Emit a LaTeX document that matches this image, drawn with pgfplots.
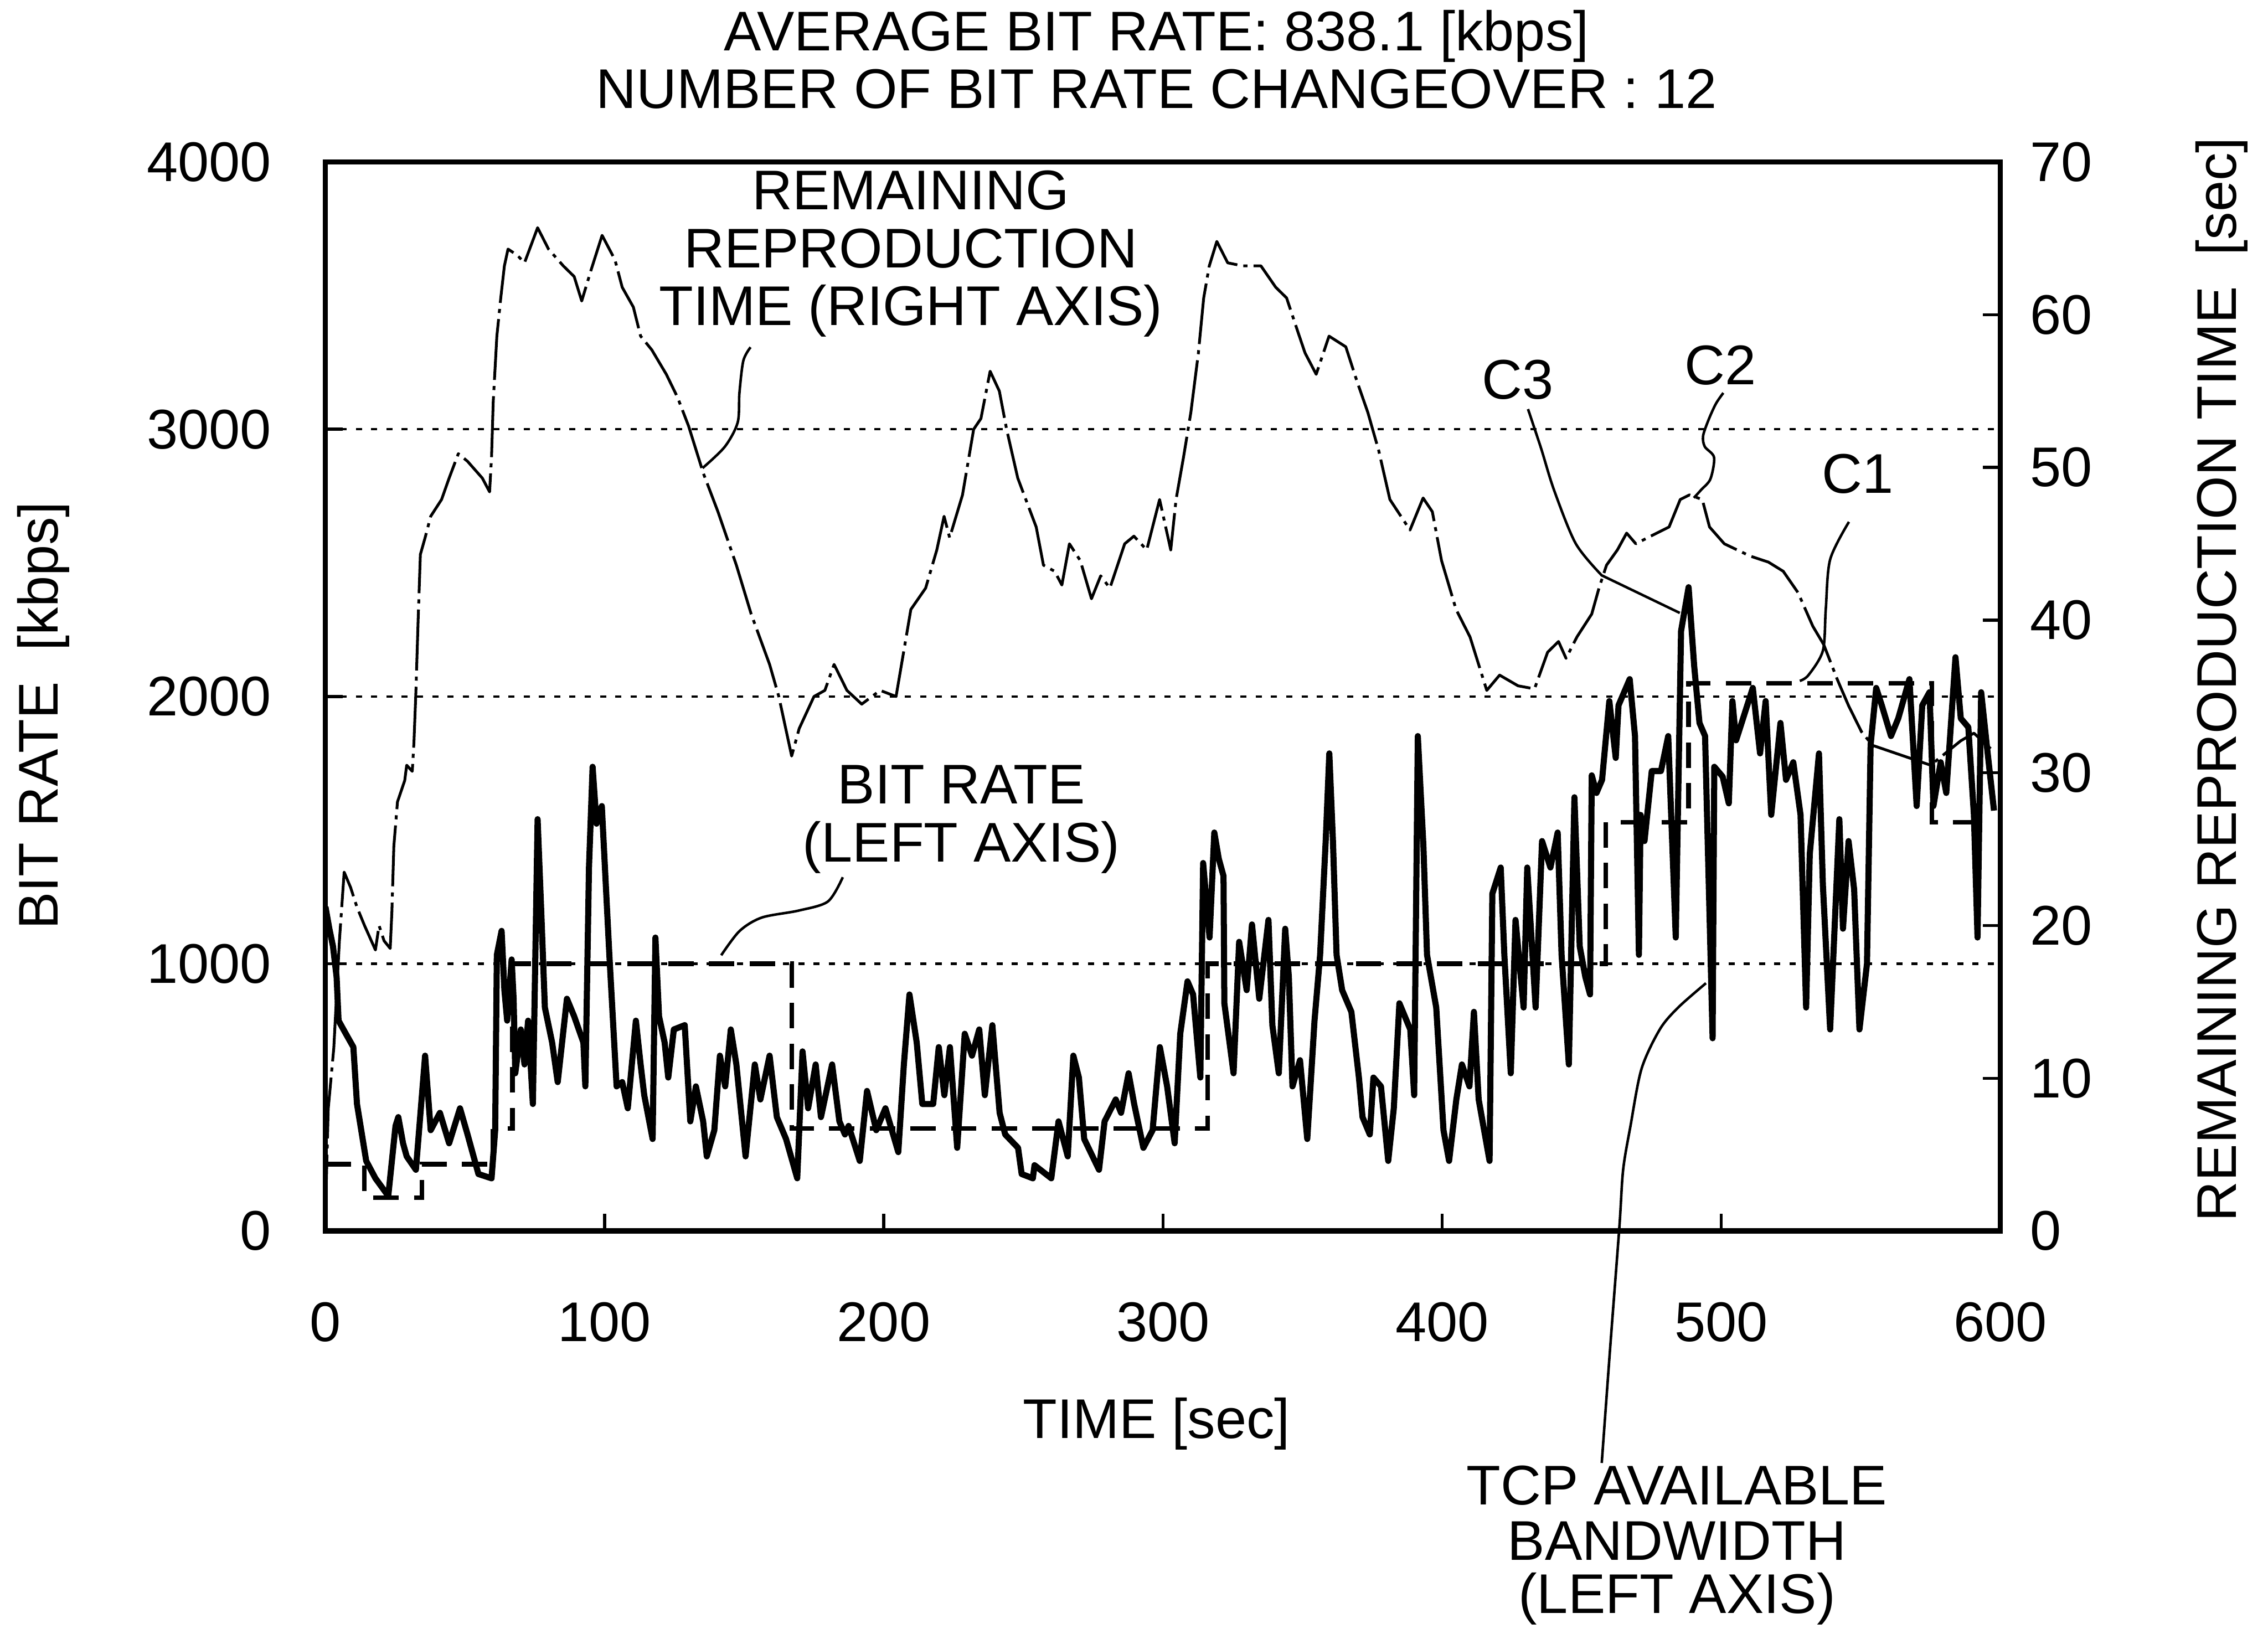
\documentclass[border=0pt]{standalone}
\usepackage{fontspec}
\setmainfont{Liberation Sans}
\usepackage{pgfplots}
\pgfplotsset{compat=1.18}
\newcommand\lf{\fontsize{11}{11.4}\selectfont}
\begin{document}
\begin{tikzpicture}
\path[use as bounding box] (0,0) rectangle (15.68cm,11.33cm);
\begin{axis}[
  at={(2.25cm,2.82cm)}, anchor=south west, scale only axis,
  width=11.58cm, height=7.39cm,
  xmin=0, xmax=600, ymin=0, ymax=4000,
  xtick={0,100,...,600}, ytick={0,1000,...,4000},
  xtick pos=bottom, ytick pos=left, tick align=inside, major tick length=0.12cm,
  ymajorgrids, major grid style={black, line width=0.45pt, dash pattern=on 1.2pt off 1.8pt},
  axis line style={line width=1pt}, tick style={black, line width=0.6pt},
  tick label style={font=\lf},
  /pgf/number format/assume math mode=true, /pgf/number format/1000 sep={}, scaled ticks=false,
  xticklabel style={yshift=-0.37cm}, yticklabel style={xshift=-0.25cm},
]
% bit rate (step)
\addplot[const plot, black, line width=0.9pt, dash pattern=on 5pt off 3pt] coordinates {
(0,250) (14,125) (34.5,250) (60,384) (67,1000) (167,384) (316,1000) (458.6,1530) (488.3,2050) (575.5,1530) (597,1530)
};
% TCP available bandwidth
\addplot[black, line width=1.2pt, line join=round] coordinates {
(0,1213) (1.4,1131) (2.7,1065) (4,950) (4.7,787) (7.3,738) (10,688) (11.3,475) (14.6,262) (17.9,197) (22.5,131) (25.1,393) (26.1,426) (27.8,328) (29.1,279) (32.4,229) (35.7,656) (37.7,377) (41,442) (44.3,328) (48.2,459) (50.9,361) (54.8,213) (59.5,197) (60.8,377) (61.4,1033) (63.1,1123) (64.1,901) (65.1,787) (66.7,1016) (67.4,869) (68,590) (70,754) (71.3,623) (72.6,787) (74.3,475) (76,1541) (77.3,1196) (78.6,836) (81.2,705) (83.2,557) (86.5,869) (89.1,803) (92.4,705) (93.1,541) (94.4,1360) (95.7,1737) (97.1,1524) (99,1590) (101.7,1033) (104.3,541) (106.3,557) (108.3,459) (111.2,787) (112.9,623) (114.2,508) (117.2,344) (118.2,1098) (119.5,803) (121.5,705) (122.8,574) (124.8,754) (128.7,770) (130.7,410) (132.7,541) (135.3,410) (136.6,279) (139.3,377) (141.3,656) (143.2,541) (145.2,754) (147.2,623) (150.5,279) (153.8,623) (155.8,492) (159.1,656) (161.7,426) (165,344) (169,197) (170.9,672) (172.9,459) (175.6,623) (177.5,426) (181.5,623) (184.1,410) (186.1,361) (187.4,393) (191.4,262) (194,524) (197.3,377) (200.6,459) (205.2,295) (207.2,623) (209.2,885) (211.8,705) (213.8,475) (217.7,475) (219.7,688) (221.7,508) (223.7,688) (226.3,311) (229,738) (231.6,656) (234.2,754) (236.2,508) (238.9,770) (241.5,442) (243.5,361) (248.1,311) (249.4,213) (253.4,197) (254,246) (260,197) (262.6,410) (265.9,279) (267.9,656) (269.9,574) (271.8,344) (277.1,229) (279.1,410) (283.1,492) (285,442) (287.7,590) (289.7,475) (293,311) (296.3,377) (298.9,688) (301.5,541) (304.2,328) (306.2,738) (308.8,934) (310.8,885) (313.4,574) (314.4,1377) (316.7,1098) (318.4,1491) (320,1393) (321.7,1328) (322,852) (325.3,590) (327.3,1082) (330,901) (331.9,1147) (334.5,869) (337.8,1164) (339.2,770) (341.5,590) (343.8,1131) (345.1,951) (346.4,541) (349.1,639) (351.7,344) (354.3,787) (356.3,1033) (358.3,1459) (359.6,1787) (360.9,1459) (362.2,1033) (364.2,901) (367.5,820) (370.2,574) (371.5,426) (374.1,361) (375.4,574) (378.1,541) (380.7,262) (382.7,459) (384.7,852) (388.6,754) (390,508) (391.3,1852) (393.3,1442) (394.6,1033) (397.9,836) (400.5,377) (402.5,262) (405.1,492) (407.1,623) (409.8,541) (411.4,820) (413.1,492) (417,262) (418,1262) (421,1360) (422.3,1033) (424.6,590) (426.3,1164) (429.2,836) (430.5,1360) (433.5,836) (435.8,1459) (438.8,1360) (441.4,1491) (442.8,1033) (445.4,623) (447.4,1623) (449.3,1065) (451.3,951) (453,885) (453.6,1705) (455.3,1639) (457.3,1688) (459.9,1983) (462.2,1770) (463.2,1967) (467.2,2065) (469.1,1852) (470.5,1033) (471.1,1557) (472.5,1459) (475.1,1721) (478.4,1721) (481,1852) (483.7,1098) (485.6,2245) (488.3,2409) (490.3,2114) (492.2,1901) (494.2,1852) (496.9,721) (497.5,1737) (500.5,1700) (502.7,1600) (504,1983) (505.3,1836) (511.3,2032) (513.9,1787) (515.9,1983) (517.9,1557) (521.2,1901) (523.2,1688) (525.8,1754) (528.4,1557) (530.4,836) (531.7,1410) (535,1787) (536.4,1295) (539,754) (542.3,1541) (543.6,1131) (545.6,1459) (547.6,1278) (549.5,754) (552.2,1000) (553.5,1819) (555.5,2032) (557.5,1967) (560.8,1852) (563.4,1918) (567.4,2065) (570,1590) (572,1967) (574.6,2016) (576,1590) (578.6,1754) (580.6,1639) (583.9,2147) (585.8,1918) (588.5,1885) (590.5,1557) (591.8,1098) (593.1,2016) (595.1,1819) (597.7,1573)
};
\end{axis}
\begin{axis}[
  at={(2.25cm,2.82cm)}, anchor=south west, scale only axis,
  width=11.58cm, height=7.39cm,
  xmin=0, xmax=600, ymin=0, ymax=70,
  axis y line*=right, axis x line=none,
  ytick={0,10,...,70}, tick align=inside, major tick length=0.12cm,
  axis line style={line width=1pt}, tick style={black, line width=0.6pt},
  tick label style={font=\lf},
  /pgf/number format/assume math mode=true,
  yticklabel style={xshift=0.08cm},
]
% remaining reproduction time
\addplot[black, line width=0.55pt, line join=round, dash pattern=on 12pt off 1.2pt on 0.8pt off 1.2pt] coordinates {
(0,1) (1,8) (3,12) (5,19) (6.7,23.5) (9,22.5) (11.3,21.2) (14,20) (17.9,18.4) (19.2,20) (21,19) (23.2,18.5) (23.8,20.9) (24.5,25.2) (25.8,28.1) (28.4,29.5) (29.1,30.5) (31.1,30.1) (31.7,32) (32.4,35.3) (33.2,40) (34,44.3) (35.7,45.4) (37.7,46.8) (41.6,47.9) (44.3,49.3) (47.6,50.9) (50.9,50.4) (56.2,49.3) (58.8,48.4) (59.5,50.7) (60.1,54.3) (61.4,58.6) (62.8,61.1) (64.1,63.2) (65.4,64.3) (68.7,63.9) (71.3,63.4) (76,65.7) (79.9,64.3) (85.2,63.2) (89.1,62.5) (91.8,60.9) (95.1,62.9) (99.1,65.2) (103.7,63.6) (106.3,61.8) (110.3,60.5) (112.9,58.6) (116.9,57.7) (122.1,56.1) (126.1,54.6) (130.1,52.7) (135.4,49.6) (140.6,47.1) (147.2,43.6) (152.5,40.4) (159.1,37.1) (162.4,35) (167,31.1) (169.7,32.9) (175,35) (178.9,35.4) (182.2,37.1) (186.8,35.4) (192.1,34.5) (198.7,35.4) (204.4,35) (207.1,37.9) (209.7,40.7) (215,42.1) (219,44.6) (221.6,46.8) (223.6,45.4) (228.2,48.2) (232.2,52.5) (234.8,53.2) (238.1,56.3) (241.4,55) (244,52.5) (248,49.3) (254.6,46.1) (257.2,43.6) (261.2,43.2) (263.8,42.3) (266.5,45) (270.4,43.9) (274.4,41.4) (277.7,42.9) (281,42.1) (286.3,45) (289.6,45.5) (294.2,44.6) (298.8,47.9) (302.8,44.6) (304.7,47.9) (307.4,50.7) (310,53.6) (312.7,57.5) (314.6,61.1) (316.6,63.2) (319.3,64.8) (323.2,63.4) (328.5,63.2) (335.1,63.2) (340.4,61.8) (344.3,61.1) (348.3,58.9) (350.9,57.5) (354.9,56.1) (359.5,58.6) (365.5,57.9) (369.4,55.7) (373.4,53.6) (377.3,51.1) (381.3,47.9) (388.5,45.9) (393.2,48) (396.5,47.1) (399.8,43.9) (405,40.7) (410,38.9) (416,35.4) (420.6,36.4) (427.2,35.7) (433.1,35.5) (437.8,37.9) (441.7,38.6) (444.4,37.5) (448.3,38.9) (453.6,40.4) (456.2,42.1) (458.9,43.6) (462.8,44.6) (466.1,45.7) (469.4,45) (474.7,45.5) (481.3,46.1) (485.3,47.9) (488.6,48.2) (493.2,47.9) (495.8,46.1) (501.1,45) (510.3,44.2) (516.9,43.8) (522.2,43.2) (527.5,41.8) (532.8,39.6) (536.7,38.4) (541.6,36.1) (545.6,34.4) (550.2,32.7) (554.2,31.8) (565.4,31.1) (575,30.5) (585.8,32.1) (590.5,32.6) (597,31.5)
};
\end{axis}
\begin{scope}[shift={(0,11.33cm)}, x=0.01cm, y=-0.01cm, font=\lf]
% titles
\node[anchor=base] at (800,35) {AVERAGE BIT RATE: 838.1 [kbps]};
\node[anchor=base] at (800,75) {NUMBER OF BIT RATE CHANGEOVER : 12};
% axis labels
\node[rotate=90] at (30,495) {BIT RATE\ \ [kbps]};
\node[rotate=90] at (1537,470) {REMAINING REPRODUCTION TIME\ \ [sec]};
\node at (800,985) {TIME [sec]};
% annotations
\node[anchor=base] at (630,145) {REMAINING};
\node[anchor=base] at (630,185) {REPRODUCTION};
\node[anchor=base] at (630,225) {TIME (RIGHT AXIS)};
\node[anchor=base] at (665,556) {BIT RATE};
\node[anchor=base] at (665,596) {(LEFT AXIS)};
\node[anchor=base] at (1050,276) {C3};
\node[anchor=base] at (1190,266) {C2};
\node[anchor=base] at (1285,341) {C1};
\node[anchor=base] at (1160,1041) {TCP AVAILABLE};
\node[anchor=base] at (1160,1079) {BANDWIDTH};
\node[anchor=base] at (1160,1116) {(LEFT AXIS)};
% leader lines
\draw[line width=0.5pt] plot[smooth] coordinates {(519.2,240.2) (514.2,249.5) (511.5,271.8) (510.3,292.2) (501.4,309) (486,323.8)};
\draw[line width=0.5pt] plot[smooth] coordinates {(583,606.8) (572.7,623.6) (552.4,629.9) (527,634.7) (511.6,644) (498.9,660.8)};
\draw[line width=0.5pt] plot[smooth] coordinates {(1057,283) (1066,310) (1075,339) (1090,376) (1108,398)} -- (1162,424);
\draw[line width=0.5pt] plot[smooth] coordinates {(1192.1,271.8) (1187,279.2) (1181.9,290.4) (1178.1,301.6) (1179.3,309) (1185.7,316.4) (1183.2,331.3) (1176.8,338.8) (1171.7,344.4)};
\draw[line width=0.5pt] plot[smooth] coordinates {(1279,361) (1266,387) (1263,421) (1261,450) (1251,467) (1245,471)};
\draw[line width=0.5pt] plot[smooth] coordinates {(1180.1,680.1) (1161,696.8) (1148.2,712) (1135.5,739.4) (1127.9,778.8) (1122.8,809.2) (1120.2,848.7) (1114,930) (1108,1012)};
\end{scope}
\end{tikzpicture}
\end{document}
